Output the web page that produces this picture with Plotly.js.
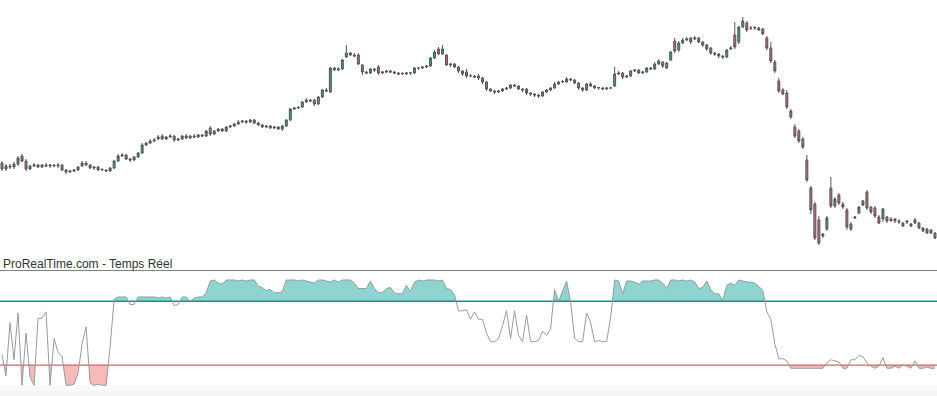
<!DOCTYPE html>
<html>
<head>
<meta charset="utf-8">
<script src="https://cdn.plot.ly/plotly-3.0.1.min.js"></script>
<style>
html,body{margin:0;padding:0;background:#fff;}
#chart{width:937px;height:396px;}
</style>
</head>
<body>
<div id="chart"></div>
<script>
// Candle prices (arbitrary price units)
const openP = [137,131,134,133,136,144,139,131,134,135,133,135,134,135,134,135,130,128,129,130,134,137,135,132,133,130,130,129,132,139,
144,145,141,140,143,147,155,157,159,161,164,161,163,164,160,161,164,162,164,163,165,164,172,166,169,171,169,173,174,176,
178,179,178,180,177,175,173,174,172,173,171,174,180,191,192,193,198,200,200,196,203,210,208,232,230,231,243,247,245,245,
235,228,227,231,233,227,228,229,228,227,226,226,227,227,232,232,233,234,242,251,246,245,235,236,233,229,228,224,224,224,
222,218,211,209,208,209,211,212,215,214,211,211,207,206,205,204,208,210,212,216,218,218,221,220,217,212,210,216,214,212,
212,211,212,214,226,227,223,224,229,230,227,228,232,231,236,238,237,240,259,250,257,260,262,261,262,258,255,252,247,246,
244,243,251,265,258,273,277,272,272,272,271,262,252,238,219,210,207,183,173,169,161,140,112,96,80,66,71,112,94,105,
96,90,76,82,87,99,108,93,92,83,81,83,81,81,79,77,79,76,80,77,72,71,70,67];
const highP = [139,136,136,138,144,146,141,135,137,136,136,137,136,136,137,136,131,130,131,134,139,139,136,134,134,132,131,133,140,146,
147,146,142,144,148,157,158,161,162,165,166,164,166,165,162,165,166,165,166,166,166,170,174,170,172,172,174,175,177,180,
180,180,181,181,178,176,175,175,174,174,175,181,192,193,194,199,202,201,201,204,211,212,233,233,233,241,255,248,247,247,
236,229,232,232,235,229,230,230,229,228,228,228,228,233,233,234,235,243,250,253,255,246,237,237,234,230,231,226,225,226,
223,219,212,210,210,212,213,216,216,215,212,212,208,207,206,209,211,213,218,219,220,223,222,221,218,213,217,218,215,213,
213,213,213,233,229,228,225,230,231,231,229,233,233,238,241,239,238,249,262,259,262,263,263,264,263,259,256,253,248,247,
245,251,254,278,274,283,279,274,274,273,272,264,258,240,222,212,210,191,176,171,163,145,114,98,84,67,84,123,103,107,
98,92,78,84,94,100,110,94,94,85,92,84,83,82,81,78,80,77,82,78,73,72,71,68];
const lowP = [129,129,131,131,134,138,129,130,133,132,132,133,132,133,132,129,126,127,128,129,133,134,131,130,129,129,128,128,131,138,
143,140,138,139,142,146,154,156,158,160,160,160,162,158,159,160,161,161,162,162,163,163,164,165,168,168,168,172,173,175,
177,176,177,176,174,172,172,171,171,170,169,173,179,190,191,192,197,198,194,195,202,208,207,229,229,230,242,244,243,235,
225,226,226,228,225,226,227,227,226,225,225,225,225,226,230,231,232,233,241,245,245,234,233,232,227,224,222,223,222,220,
216,209,208,206,207,208,210,211,213,210,208,205,204,203,202,203,207,209,211,215,217,217,219,216,210,208,209,213,211,210,
210,210,211,213,225,221,222,223,228,226,226,227,230,230,235,232,231,239,247,248,256,259,256,260,257,253,249,245,244,242,
241,242,250,251,256,272,268,270,270,269,265,250,237,227,207,205,191,181,162,157,151,118,86,60,55,62,69,92,92,95,
91,70,69,81,86,94,90,86,82,76,78,77,78,77,76,73,76,73,76,71,68,66,66,61];
const closeP = [131,134,133,136,142,139,131,134,135,133,135,134,135,134,135,130,128,129,130,133,137,135,132,133,130,130.5,129,132,139,144,
145,141,140,143,147,155,157,159,160,163,161,163,164,160,161,164,162,164,163,165,164,169,166,169,171,169,173,174,176,178,
179,178,180,177,175,173,174,172,173,171,174,180,191,192,192.5,198,200,199,196,203,210,209,232,230,231,240,247,245,244,236,
228,227,231,230,227,228,229,228,227,226,226.5,227,227,232,232,233,234,242,248,246,251,235,236,233,229,226,224,224,223,222,
218,211,209,208,209,211,212,215,214,211,210,207,206,205,204,208,210,212,216,218,218.5,221,220,217,212,210,216,214,212,212.5,
211,212,212,226,227,223,224,229,230,227,228,232,231,236,239,234,232,248,249,257,260,261,258,262,258,255,251,247,246,244,
243,250,252,253,273,279,270,272,272.5,270,266,252,239,229,209,206,193,189,164,159,153,120,90,62,57,64,82,94,101,97,
93,73,71,83,93,95,92,88,84,77,91,79,79.5,79,78,74,78,74,77,72,69,67,67,62];

// Stochastic oscillator (0-100) with 80 / 20 levels
const stoch = [30,10,60,25,69,1,50,9,1,64,64,70,1,45,32,28,1,1,2,12,40,56,3,1,2,1,1,37,82,84,
84,84,77,77,84,84,84,84,84,83,84,83,84,76,77,84,84,80,83,84,84,88,99,100,97,96,100,100,100,99,
100,99,100,100,94,93,90,91,88,88,89,100,100,100,99,100,99,98,97,100,100,99,98,100,98,100,100,100,97,92,
92,92,99,92,88,88,92,93,88,87,87,95,89,98,100,99,100,100,100,99,100,92,91,86,71,71,72,63,70,63,
63,50,42,42,45,57,71,45,71,48,42,67,42,42,43,52,48,54,91,80,90,99,79,45,42,42,69,60,42,43,
42,42,65,100,99,87,99,99,98,96,99,99,99,100,100,97,92,100,100,99,100,99,100,98,92,93,99,91,87,87,
81,95,97,95,100,99,98,98,97,94,90,70,63,40,26,26,24,17,17,17,17,17,17,17,17,17,22,25,24,23,
17,17,25,25,29,28,22,19,17,19,27,17,17,19,17,20,19,17,24,17,17,18,17,17];
const upperLevel = 80;
const lowerLevel = 20;
const sourceLabel = "ProRealTime.com - Temps Réel";

const idx = closeP.map((_, i) => i);

function clipPoly(xs, ys, level, above) {
  const px = [], py = [];
  const clip = v => above ? Math.max(v, level) : Math.min(v, level);
  for (let i = 0; i < xs.length; i++) {
    px.push(xs[i]); py.push(clip(ys[i]));
    if (i < xs.length - 1) {
      const a = ys[i] - level, b = ys[i + 1] - level;
      if ((a > 0 && b < 0) || (a < 0 && b > 0)) {
        const t = a / (a - b);
        px.push(xs[i] + t * (xs[i + 1] - xs[i])); py.push(level);
      }
    }
  }
  px.push(xs[xs.length - 1]); py.push(level);
  px.push(xs[0]); py.push(level);
  return {x: px, y: py};
}

const up = clipPoly(idx, stoch, upperLevel, true);
const dn = clipPoly(idx, stoch, lowerLevel, false);

const traces = [
  {
    type: 'candlestick', x: idx, open: openP, high: highP, low: lowP, close: closeP,
    xaxis: 'x', yaxis: 'y',
    increasing: {line: {color: '#555555', width: 1}, fillcolor: '#3f9d95'},
    decreasing: {line: {color: '#555555', width: 1}, fillcolor: '#c46a6a'},
    whiskerwidth: 0, hoverinfo: 'skip', showlegend: false
  },
  {
    type: 'scatter', mode: 'lines', x: up.x, y: up.y, xaxis: 'x2', yaxis: 'y2',
    fill: 'toself', fillcolor: '#8fd4d1', line: {width: 0}, hoverinfo: 'skip', showlegend: false
  },
  {
    type: 'scatter', mode: 'lines', x: dn.x, y: dn.y, xaxis: 'x2', yaxis: 'y2',
    fill: 'toself', fillcolor: '#f6baba', line: {width: 0}, hoverinfo: 'skip', showlegend: false
  },
  {
    type: 'scatter', mode: 'lines', x: [idx[0] - 0.5, idx[idx.length - 1] + 0.5], y: [upperLevel, upperLevel],
    xaxis: 'x2', yaxis: 'y2', line: {color: '#1f8b8b', width: 1.3}, hoverinfo: 'skip', showlegend: false
  },
  {
    type: 'scatter', mode: 'lines', x: [idx[0] - 0.5, idx[idx.length - 1] + 0.5], y: [lowerLevel, lowerLevel],
    xaxis: 'x2', yaxis: 'y2', line: {color: '#c46a6a', width: 1.3}, hoverinfo: 'skip', showlegend: false
  },
  {
    type: 'scatter', mode: 'lines', x: idx, y: stoch, xaxis: 'x2', yaxis: 'y2',
    line: {color: '#9a9a9a', width: 1}, hoverinfo: 'skip', showlegend: false
  }
];

const hidden = {showgrid: false, zeroline: false, showticklabels: false, showline: false, ticks: ''};
const N = idx.length;
const layout = {
  width: 937, height: 396,
  margin: {l: 0, r: 0, t: 0, b: 0, pad: 0},
  paper_bgcolor: '#ffffff', plot_bgcolor: 'rgba(0,0,0,0)',
  showlegend: false,
  xaxis: Object.assign({}, hidden, {domain: [0, 1], range: [-0.5, N - 0.5], anchor: 'y', rangeslider: {visible: false}}),
  yaxis: Object.assign({}, hidden, {domain: [0.35, 1], range: [42.6, 300], anchor: 'x'}),
  xaxis2: Object.assign({}, hidden, {domain: [0, 1], range: [-0.5, N - 0.5], anchor: 'y2'}),
  yaxis2: Object.assign({}, hidden, {domain: [0, 0.3169], range: [-9.06, 108.9], anchor: 'x2'}),
  shapes: [
    {type: 'rect', xref: 'paper', yref: 'paper', x0: 0, x1: 1, y0: 0, y1: 0.028, fillcolor: '#fafafa', line: {width: 0}, layer: 'below'},
    {type: 'rect', xref: 'paper', yref: 'paper', x0: 0, x1: 1, y0: 0, y1: 0.014, fillcolor: '#f5f5f5', line: {width: 0}, layer: 'below'},
    {type: 'line', xref: 'paper', yref: 'paper', x0: 0, x1: 1, y0: 0.3169, y1: 0.3169, line: {color: '#74878f', width: 1}}
  ],
  annotations: [
    {text: sourceLabel, xref: 'paper', yref: 'paper', x: 0, y: 1 - 264 / 396, xanchor: 'left', yanchor: 'middle',
     xshift: 1, showarrow: false, font: {family: 'Liberation Sans, Arial, sans-serif', size: 12, color: '#333333'}}
  ]
};

Plotly.newPlot('chart', traces, layout, {staticPlot: true, displayModeBar: false});
</script>
</body>
</html>
